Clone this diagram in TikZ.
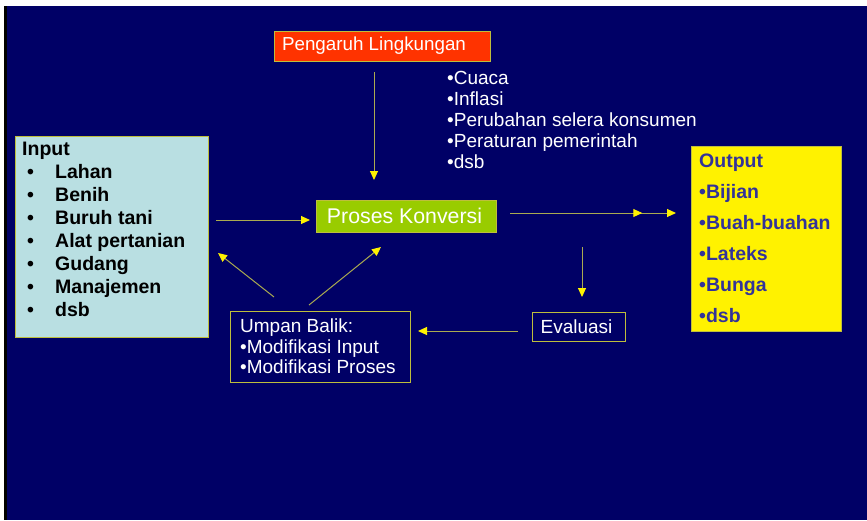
\documentclass[tikz,border=0pt]{standalone}
\usepackage{fontspec}
\setmainfont{Liberation Sans}
\usetikzlibrary{arrows.meta,calc,decorations.markings}

\definecolor{slidebg}{RGB}{0,0,102}
\definecolor{edgeolive}{RGB}{190,190,60}
\definecolor{wireolive}{RGB}{170,170,80}
\definecolor{envred}{RGB}{255,51,0}
\definecolor{procgreen}{RGB}{153,204,0}
\definecolor{inputcyan}{RGB}{185,223,226}
\definecolor{outtext}{RGB}{51,51,153}

\tikzset{
  box/.style={draw=edgeolive, line width=1pt, inner sep=0pt, outer sep=0pt},
  wire/.style={draw=wireolive, line width=1pt,
    -{Triangle[length=9pt,width=8pt,color=yellow]}},
  txt/.style={text=white, font=\fontsize{19}{21}\selectfont, inner sep=0pt}
}

\begin{document}
\begin{tikzpicture}[x=1pt,y=-1pt]
  \useasboundingbox (0,0) rectangle (867,520);
  % slide background
  \fill[white] (0,0) rectangle (867,520);
  \fill[black] (4,6) rectangle (7,520);
  \fill[slidebg] (7,6) rectangle (867,520);

  % boxes
  \node[box, fill=envred, minimum width=216pt, minimum height=30pt,
        txt, font=\fontsize{18.8}{21}\selectfont] (env) at (382,46) {Pengaruh Lingkungan\hspace{16pt}\null};
  \node[box, fill=inputcyan, minimum width=193pt, minimum height=201pt] (input) at (111.5,236.5) {};
  \node[box, fill=procgreen, minimum width=180pt, minimum height=32pt,
        txt, font=\fontsize{21.3}{24}\selectfont] (proc) at (406,216) {Proses Konversi\hspace{3pt}\null};
  \node[box, fill=yellow, minimum width=150pt, minimum height=185pt] (output) at (766,238.5) {};
  \node[box, fill=slidebg, minimum width=93pt, minimum height=29pt, txt] (eval) at (578.5,326.5) {Evaluasi\hspace{4pt}\null};
  \node[box, fill=slidebg, minimum width=180pt, minimum height=71pt] (feed) at (320,346.5) {};

  % texts
  \node[anchor=west, inner sep=0pt, font=\bfseries\fontsize{19.5}{23}\selectfont] (inputtxt) at (22,231.5)
    {\begin{tabular}{@{}p{33pt}@{}l@{}}
      \multicolumn{2}{@{}l@{}}{Input}\\
      \hspace{5pt}\textbullet & Lahan\\
      \hspace{5pt}\textbullet & Benih\\
      \hspace{5pt}\textbullet & Buruh tani\\
      \hspace{5pt}\textbullet & Alat pertanian\\
      \hspace{5pt}\textbullet & Gudang\\
      \hspace{5pt}\textbullet & Manajemen\\
      \hspace{5pt}\textbullet & dsb
    \end{tabular}};
  \node[anchor=west, align=left, inner sep=0pt, text=outtext,
        font=\bfseries\fontsize{19.5}{31}\selectfont] (outtxt) at (699,238.5)
    {Output\\ \textbullet Bijian\\ \textbullet Buah-buahan\\ \textbullet Lateks\\ \textbullet Bunga\\ \textbullet dsb};
  \node[txt, anchor=west, align=left] (factors) at (447,120)
    {\textbullet Cuaca\\ \textbullet Inflasi\\ \textbullet Perubahan selera konsumen\\ \textbullet Peraturan pemerintah\\ \textbullet dsb};
  \node[txt, anchor=west, align=left, font=\fontsize{19}{20.5}\selectfont] (feedtxt) at (240,346.5)
    {Umpan Balik:\\ \textbullet Modifikasi Input\\ \textbullet Modifikasi Proses};

  % connectors
  \draw[wire, shorten <=11pt, shorten >=20pt] ([xshift=-8pt]env.south) -- ([xshift=-32pt]proc.north);
  \draw[wire, shorten <=8pt, shorten >=6pt] ([yshift=16.5pt]input.east) -- ([yshift=-4pt]proc.west);
  \draw[wire, shorten <=14pt, shorten >=15pt,
        postaction={decorate},
        decoration={markings, mark=at position 0.75 with {\arrow{Triangle[length=9pt,width=8pt,color=yellow]}}}]
    ([yshift=3pt]proc.east) -- ([yshift=25.5pt]output.west);
  \draw[wire, shorten <=15pt, shorten >=15pt] ([xshift=3.5pt]eval.north |- proc.south) -- ([xshift=3.5pt]eval.north);
  \draw[wire, shorten <=14pt, shorten >=8pt] ([yshift=-4.5pt]eval.west) -- ([yshift=15.5pt]feed.east);
  \draw[wire] ($(feed.north west)+(44,-14)$) -- ($(input.east)+(10,16.5)$);
  \draw[wire] ($(feed.north west)+(79,-6)$) -- ($(proc.south west)+(65,15)$);
\end{tikzpicture}
\end{document}
